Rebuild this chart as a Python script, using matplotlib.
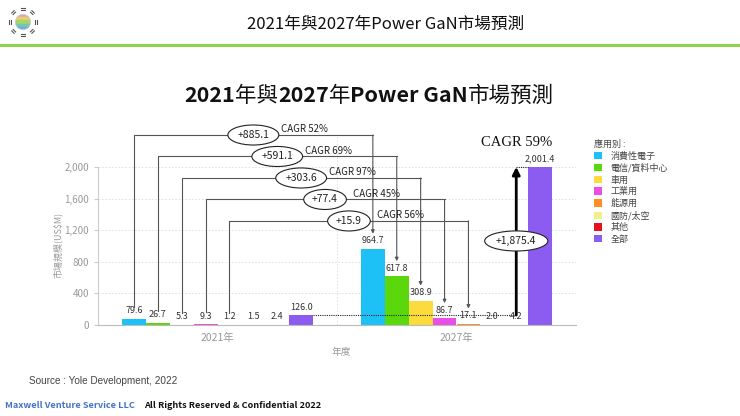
import numpy as np
import matplotlib.pyplot as plt
from matplotlib.lines import Line2D
from matplotlib.patches import Circle, Rectangle
from matplotlib.ticker import StrMethodFormatter

plt.rcParams['font.family'] = ['Noto Sans CJK TC', 'DejaVu Sans']

title = '2021年與2027年Power GaN市場預測'
categories = ['2021年', '2027年']
segments = ['消費性電子', '電信/資料中心', '車用', '工業用', '能源用', '國防/太空', '其他', '全部']
colors = ['#1ec1f6', '#5ad80c', '#fbdc3c', '#e94fe6', '#ff9020', '#eef08a', '#e8101a', '#8c5cf0']
values_2021 = [79.6, 26.7, 5.3, 9.3, 1.2, 1.5, 2.4, 126.0]
values_2027 = [964.7, 617.8, 308.9, 86.7, 17.1, 2.0, 4.2, 2001.4]
cagr = [52, 69, 97, 45, 56]
cagr_total = 59

W, H = 740, 416
fig = plt.figure(figsize=(W / 100, H / 100), dpi=100)


def fx(px):
    return px / W


def fy(py):
    return 1 - py / H


# header
fig.text(fx(386), fy(24), title, ha='center', va='center', fontsize=12, color='#111')
fig.add_artist(Line2D([0, 1], [fy(45), fy(45)], color='#92d050', lw=2.2, transform=fig.transFigure))

# logo
lg = fig.add_axes([fx(6), fy(40), fx(34), 36 / H])
lg.set_xlim(-1, 1)
lg.set_ylim(-1, 1)
lg.set_aspect('equal')
lg.axis('off')
clip = Circle((0, 0), 0.45, transform=lg.transData)
for k, c in enumerate(['#e6a0b0', '#e8d070', '#a8d468', '#70c8b8', '#78a8e0']):
    r = Rectangle((-0.5, 0.45 - (k + 1) * 0.18), 1.0, 0.18, color=c)
    r.set_clip_path(clip)
    lg.add_patch(r)
lg.add_patch(Circle((0, 0), 0.45, fill=False, ec='#ccc', lw=0.5))
for a in np.arange(8) * np.pi / 4:
    for d in (0.72, 0.84):
        lg.plot([d * np.cos(a) - 0.1 * np.sin(a), d * np.cos(a) + 0.1 * np.sin(a)],
                [d * np.sin(a) + 0.1 * np.cos(a), d * np.sin(a) - 0.1 * np.cos(a)],
                color='#555', lw=0.8)

# chart title with mixed weights
parts = [('2021', 'bold'), ('年與', 'normal'), ('2027', 'bold'), ('年', 'normal'),
         ('Power GaN', 'bold'), ('市場預測', 'normal')]
renderer = fig.canvas.get_renderer()
texts = [fig.text(0, fy(96), s, fontsize=15.5, fontweight=wt, va='center', color='#111')
         for s, wt in parts]
widths = [t.get_window_extent(renderer).width for t in texts]
x0 = 369 - sum(widths) / 2
for t, wd in zip(texts, widths):
    t.set_x(fx(x0))
    x0 += wd

# main axes
ax = fig.add_axes([fx(98), fy(325), fx(478), 190 / H])
x = np.arange(len(categories))
w = 0.1
for j, seg in enumerate(segments):
    xs = x + (j - 3.5) * w
    vals = [values_2021[j], values_2027[j]]
    ax.bar(xs, vals, w, color=colors[j], label=seg, zorder=2)
    for xi, v in zip(xs, vals):
        ax.annotate(f'{v:,.1f}', (xi, v), xytext=(0, 2.5), textcoords='offset points',
                    ha='center', va='bottom', fontsize=6.5, color='#333', zorder=5)

ax.set_xlim(-0.5, 1.5)
ax.set_ylim(0, 2405)
ax.set_yticks(range(0, 2001, 400))
ax.yaxis.set_major_formatter(StrMethodFormatter('{x:,.0f}'))
ax.set_xticks(x)
ax.set_xticklabels(categories)
ax.set_xticks([0.5, 1.5], minor=True)
ax.tick_params(axis='y', colors='#ccc', labelcolor='#999', labelsize=7, length=3)
ax.tick_params(axis='x', which='both', length=0, labelcolor='#999', labelsize=7.5, pad=6)
ax.grid(axis='y', ls=(0, (2, 2)), color='#dcdcdc', lw=0.6)
ax.grid(axis='x', which='minor', ls=(0, (2, 2)), color='#dcdcdc', lw=0.6)
ax.set_axisbelow(True)
for s in ('top', 'right'):
    ax.spines[s].set_visible(False)
ax.spines['left'].set_color('#ccc')
ax.spines['left'].set_bounds(0, 2000)
ax.spines['bottom'].set_color('#bbb')

fig.text(fx(58), fy(245), r'市場規模(US\$M)', rotation=90, ha='center', va='center',
         fontsize=6.5, color='#999')
fig.text(fx(341), fy(352), '年度', ha='center', va='center', fontsize=7, color='#999')

# growth brackets per segment
line_c = '#555'
for j in range(len(cagr)):
    xl = x[0] + (j - 3.5) * w
    xr = x[1] + (j - 3.5) * w
    level = 2405 - j * 272
    ax.plot([xl, xl, xr], [values_2021[j] + 150, level, level], color=line_c, lw=0.8,
            clip_on=False, zorder=3)
    ax.annotate('', xy=(xr, values_2027[j] + 190), xytext=(xr, level),
                arrowprops=dict(arrowstyle='-|>', color=line_c, lw=0.8, mutation_scale=5,
                                shrinkA=0, shrinkB=0), annotation_clip=False, zorder=3)
    xm = (xl + xr) / 2
    ax.text(xm, level, f'+{values_2027[j] - values_2021[j]:,.1f}', ha='center', va='center',
            fontsize=7.5, color='#222', zorder=4, clip_on=False,
            bbox=dict(boxstyle='ellipse,pad=0.2', fc='white', ec='#222', lw=0.8))
    ax.annotate(f'CAGR {cagr[j]}%', (xm, level), xytext=(20, 0.5), textcoords='offset points',
                ha='left', va='bottom', fontsize=7, color='#222', annotation_clip=False, zorder=4)

# total growth arrow
xa = x[1] + 2.5 * w
ax.annotate('', xy=(xa, values_2027[-1]), xytext=(xa, values_2021[-1]),
            arrowprops=dict(arrowstyle='-|>', color='black', lw=2, mutation_scale=11,
                            shrinkA=0, shrinkB=0), zorder=4)
ax.plot([x[0] + 4 * w, xa], [values_2021[-1]] * 2, ls=(0, (1, 1)), color='#222', lw=0.8, zorder=3)
ax.plot([xa, x[1] + 3 * w], [values_2027[-1]] * 2, ls=(0, (1, 1)), color='#222', lw=0.8, zorder=3)
ax.text(xa, (values_2021[-1] + values_2027[-1]) / 2,
        f'+{values_2027[-1] - values_2021[-1]:,.1f}', ha='center', va='center',
        fontsize=7.5, color='#222', zorder=5,
        bbox=dict(boxstyle='ellipse,pad=0.2', fc='white', ec='#222', lw=0.8))
ax.text(xa, 2304, f'CAGR {cagr_total}%', ha='center', va='center', fontsize=10.5,
        family='Liberation Serif', color='#111', clip_on=False)

leg = ax.legend(loc='upper left', bbox_to_anchor=(fx(594), fy(139.5)), bbox_transform=fig.transFigure,
                frameon=False, fontsize=6.5, title='應用別 :', title_fontsize=6.5, alignment='left',
                handlelength=0.9, handleheight=0.9, handletextpad=0.9, labelspacing=0.3,
                borderpad=0, borderaxespad=0, labelcolor='#444')
leg.get_title().set_color('#444')

# footer
fig.text(fx(29), fy(381), 'Source : Yole Development, 2022', family='Liberation Sans',
         fontsize=7.2, color='#444', va='center')
fig.text(fx(5), fy(406), 'Maxwell Venture Service LLC', fontsize=6.6, fontweight='bold',
         color='#4472c4', va='center')
fig.text(fx(144), fy(406), 'All Rights Reserved & Confidential 2022', fontsize=6.6,
         fontweight='bold', color='#111', va='center')

fig.savefig('out.png', dpi=100)
